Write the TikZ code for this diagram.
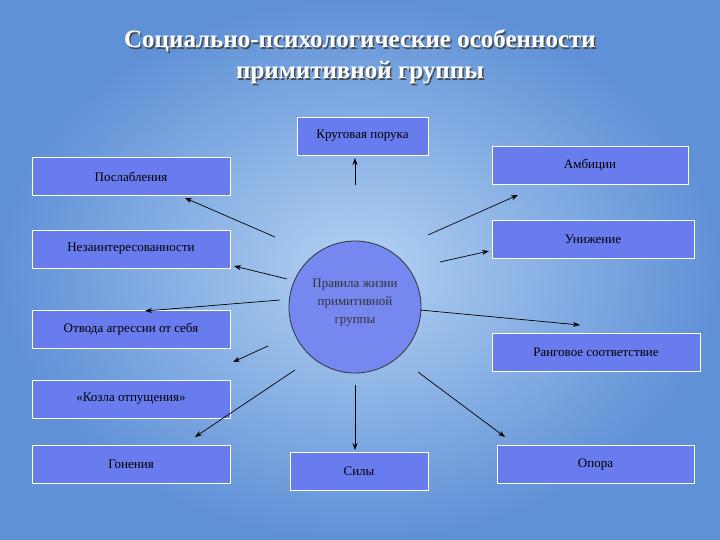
\documentclass[tikz,border=0pt]{standalone}
\usepackage{fontspec}
\setmainfont{Liberation Serif}
\usetikzlibrary{arrows.meta}
\begin{document}
\begin{tikzpicture}[x=1pt,y=-1pt,
 bx/.style={draw=white,line width=0.6pt,fill=boxblue,minimum height=38pt,inner sep=2pt,font=\fontsize{13}{15}\selectfont},
 ar/.style={-{Stealth[length=7pt,width=5pt]},line width=0.7pt,black},
 ttl/.style={font=\bfseries\fontsize{25}{31}\selectfont,align=center}]
\definecolor{boxblue}{RGB}{104,124,238}
\definecolor{circblue}{RGB}{118,136,240}
\definecolor{skyA}{RGB}{95,145,215}
\definecolor{skyB}{RGB}{180,210,242}
\useasboundingbox (0,0) rectangle (720,540);
\shade[inner color=skyB,outer color=skyA] (0,0) rectangle (720,540);
% title
\node[ttl,text=black!70] (tsh) at (361.5,58.5) {Социально-психологические особенности\\примитивной группы};
\node[ttl,text=white] (t) at (360,57) {Социально-психологические особенности\\примитивной группы};
% circle
\node[circle,draw=black!80,line width=0.8pt,fill=circblue,minimum size=132pt] (c) at (355,307) {};
\node[align=center,font=\fontsize{13}{18}\selectfont,text=black!80] (ct) at (355,303) {Правила жизни\\примитивной\\группы};
% boxes
\node[bx,minimum width=131pt] (kp) at (362.5,136) {Круговая порука};
\node[bx,minimum width=198pt] (pos) at (131,176.5) {Послабления};
\node[bx,minimum width=196pt] (amb) at (590,165.5) {Амбиции};
\node[bx,minimum width=198pt] (nez) at (131,249) {Незаинтересованности};
\node[bx,minimum width=202pt] (un) at (593,239) {Унижение};
\node[bx,minimum width=198pt] (otv) at (131,329) {Отвода агрессии от себя};
\node[bx,minimum width=208pt] (rang) at (596,352.5) {Ранговое соответствие};
\node[bx,minimum width=198pt] (koz) at (131,399) {«Козла отпущения»};
\node[bx,minimum width=198pt] (gon) at (131,464.5) {Гонения};
\node[bx,minimum width=138pt] (sil) at (359,471) {Силы};
\node[bx,minimum width=197pt] (op) at (595.5,464.5) {Опора};
% arrow points
\coordinate (s1) at (355,185); \coordinate (e1) at (355,158);
\coordinate (s2) at (275,237); \coordinate (e2) at (185,198);
\coordinate (s3) at (428,235); \coordinate (e3) at (518,195);
\coordinate (s4) at (287,279); \coordinate (e4) at (234,266);
\coordinate (s5) at (440,262); \coordinate (e5) at (489,251);
\coordinate (s6) at (280,300); \coordinate (e6) at (145,311);
\coordinate (s7) at (420,310); \coordinate (e7) at (580,325);
\coordinate (s8) at (268,346); \coordinate (e8) at (233,362);
\coordinate (s9) at (295,370); \coordinate (e9) at (195,437);
\coordinate (s10) at (355,385); \coordinate (e10) at (355,450);
\coordinate (s11) at (418,372); \coordinate (e11) at (505,437);
\foreach \i in {1,...,11} \draw[ar] (s\i) -- (e\i);
\end{tikzpicture}
\end{document}
